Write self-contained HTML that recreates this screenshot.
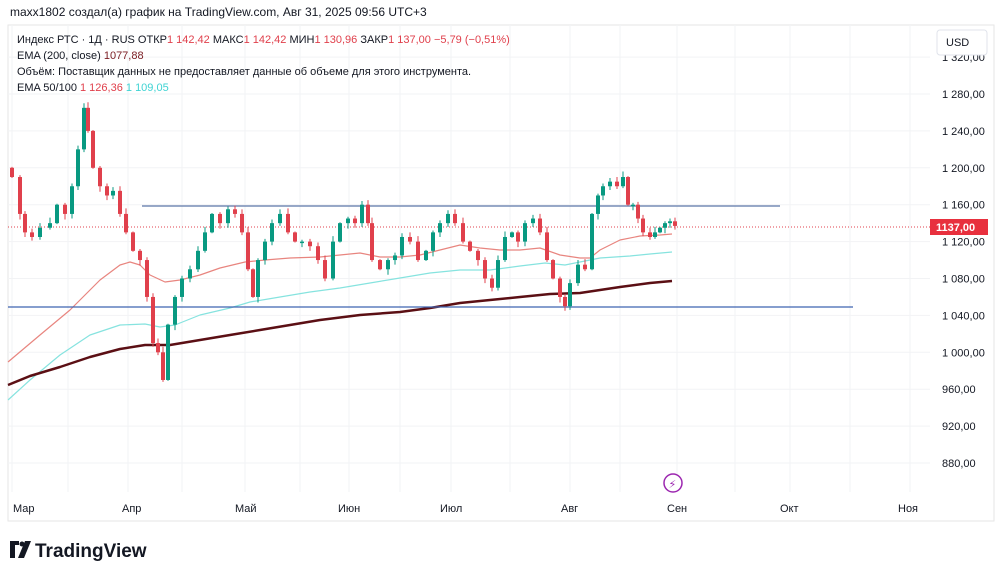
<!DOCTYPE html>
<html><head><meta charset="utf-8"><style>
body{margin:0;background:#fff;width:1000px;height:578px;overflow:hidden;font-family:"Liberation Sans",sans-serif}
svg text{font-family:"Liberation Sans","DejaVu Sans",sans-serif}
</style></head><body>
<svg id="s" width="1000" height="578" xmlns="http://www.w3.org/2000/svg">
<rect x="0" y="0" width="1000" height="578" fill="#fff"/>
<text x="10" y="16" font-size="12" fill="#131722">maxx1802 создал(а) график на TradingView.com, Авг 31, 2025 09:56 UTC+3</text>
<rect x="8" y="25" width="986" height="496" fill="none" stroke="#e6e6e6"/>
<g id="grid" stroke="#f2f3f5" stroke-width="1"></g>
<g id="axis" font-size="11" fill="#131722"></g>
<g font-size="11" fill="#131722">
<text x="17" y="43">Индекс РТС · 1Д · RUS  ОТКР<tspan fill="#e0404c">1 142,42</tspan>  МАКС<tspan fill="#e0404c">1 142,42</tspan>  МИН<tspan fill="#e0404c">1 130,96</tspan>  ЗАКР<tspan fill="#e0404c">1 137,00  −5,79 (−0,51%)</tspan></text>
<text x="17" y="59">EMA (200, close)  <tspan fill="#7a1c22">1077,88</tspan></text>
<text x="17" y="75">Объём: Поставщик данных не предоставляет данные об объеме для этого инструмента.</text>
<text x="17" y="91">EMA 50/100  <tspan fill="#e0404c">1 126,36</tspan>  <tspan fill="#3fd3d3">1 109,05</tspan></text>
</g>
<rect x="937" y="30" width="50" height="25" rx="3" fill="#fff" stroke="#e0e3eb"/>
<text x="946" y="46" font-size="11" fill="#131722">USD</text>
<g id="ema" fill="none"></g>
<line x1="142" y1="206" x2="780" y2="206" stroke="#5b76a8" stroke-width="1.3"/>
<line x1="8" y1="307" x2="853" y2="307" stroke="#3f63b0" stroke-width="1.3"/>
<line x1="8" y1="227" x2="930" y2="227" stroke="#e0404c" stroke-width="1" stroke-dasharray="1,2"/>
<g id="c"></g>
<rect x="930" y="219" width="58" height="16" fill="#e8303e"/>
<text x="936" y="231" font-size="11" font-weight="bold" fill="#fff">1137,00</text>
<circle cx="673" cy="483" r="9" fill="#fff" stroke="#9c27b0" stroke-width="1.5"/>
<text x="668.5" y="488" font-size="11" fill="#9c27b0">⚡</text>
<g font-size="11" fill="#131722">
<text x="13" y="512">Мар</text><text x="122" y="512">Апр</text><text x="235" y="512">Май</text><text x="338" y="512">Июн</text><text x="440" y="512">Июл</text><text x="561" y="512">Авг</text><text x="667" y="512">Сен</text><text x="780" y="512">Окт</text><text x="898" y="512">Ноя</text>
</g>
<g transform="translate(10,541)"><path d="M0 0h9v4h-4v13h-5z" fill="#131722"/><circle cx="12" cy="3" r="2.5" fill="#131722"/><path d="M15 0h6l-7 17h-6z" fill="#131722"/></g>
<text x="35" y="557" font-size="19" font-weight="bold" fill="#131722">TradingView</text>
</svg>
<script>
var NS="http://www.w3.org/2000/svg";
function el(p,t,a){var e=document.createElementNS(NS,t);for(var k in a)e.setAttribute(k,a[k]);document.getElementById(p).appendChild(e);return e;}
function Y(p){return 94+(1280-p)*0.9225;}
[12,68,128,182,245,300,349,400,451,510,570,620,677,735,790,850,910].forEach(function(x){el("grid","line",{x1:x,y1:25,x2:x,y2:492});});
[1320,1280,1240,1200,1160,1120,1080,1040,1000,960,920,880].forEach(function(p){var y=Y(p);el("grid","line",{x1:8,y1:y,x2:930,y2:y});
var t=el("axis","text",{x:942,y:y+4});t.textContent=(p>=1000?(""+p).charAt(0)+" "+(""+p).slice(1):p)+",00";});
var pts=[[12,1190],[20,1150],[25,1130],[32,1125],[40,1135],[50,1140],[57,1160],[65,1150],[72,1180],[78,1220],[84,1265],[88,1240],[93,1200],[100,1180],[107,1170],[113,1175],[120,1150],[126,1130],[133,1110],[140,1100],[147,1060],[153,1010],[158,1000],[163,970],[168,1030],[175,1060],[182,1080],[190,1090],[198,1110],[205,1130],[212,1150],[220,1140],[228,1155],[235,1150],[242,1130],[248,1090],[253,1060],[258,1100],[265,1120],[272,1140],[280,1150],[288,1130],[295,1120],[302,1120],[310,1115],[318,1100],[325,1080],[333,1120],[340,1140],[348,1145],[355,1140],[362,1160],[368,1140],[372,1100],[380,1090],[388,1100],[395,1105],[402,1125],[410,1120],[418,1100],[426,1110],[433,1130],[440,1140],[448,1150],[455,1140],[463,1120],[470,1110],[478,1100],[485,1080],[492,1070],[498,1100],[505,1125],[512,1130],[518,1120],[525,1140],[533,1145],[540,1130],[547,1100],[553,1080],[560,1060],[565,1050],[570,1075],[578,1095],[585,1090],[592,1150],[598,1170],[603,1180],[610,1185],[617,1180],[623,1190],[628,1160],[633,1160],[638,1145],[643,1130],[650,1125],[655,1130],[660,1135],[665,1140],[670,1142],[675,1137]];
var prev=1200;
pts.forEach(function(q,i){var o=prev,c=q[1];var up=c>=o;var hi=Math.max(o,c)+1+(i*7%6),lo=Math.min(o,c)-1-(i*5%6);
var col=up?"#089981":"#e0404c";
el("c","line",{x1:q[0],y1:Y(hi),x2:q[0],y2:Y(lo),stroke:col,"stroke-width":1});
var y1=Y(Math.max(o,c)),h=Math.max(1.5,Y(Math.min(o,c))-y1);
el("c","rect",{x:q[0]-2,y:y1,width:4,height:h,fill:col});prev=c;});
function line(a,col,w){el("ema","polyline",{points:a.map(function(p){return p.join(",")}).join(" "),stroke:col,"stroke-width":w,"stroke-linejoin":"round"});}
line([[8,362],[40,335],[70,310],[100,280],[120,265],[130,262],[140,265],[150,275],[165,282],[180,280],[200,275],[220,268],[245,262],[265,260],[290,258],[320,257],[340,255],[360,253],[380,257],[400,257],[420,255],[440,250],[460,245],[480,248],[500,250],[520,250],[540,248],[560,255],[580,258],[590,258],[600,250],[620,240],[640,236],[660,235],[672,234]],"#e8857f",1.2);
line([[8,400],[30,380],[60,355],[90,335],[120,325],[145,324],[160,327],[175,325],[200,315],[230,308],[250,302],[280,297],[310,292],[340,288],[370,283],[400,278],[430,273],[460,270],[490,270],[520,266],[545,263],[565,265],[580,262],[600,258],[630,256],[650,254],[672,252]],"#86e3df",1.2);
line([[8,385],[30,376],[60,367],[90,357],[120,349],[145,345],[170,345],[200,340],[230,335],[260,330],[290,325],[320,320],[360,315],[400,312],[430,308],[460,303],[490,300],[520,297],[550,294],[580,293],[600,290],[620,287],[650,283],[672,281]],"#5b0f14",2.5);
</script>
</body></html>
